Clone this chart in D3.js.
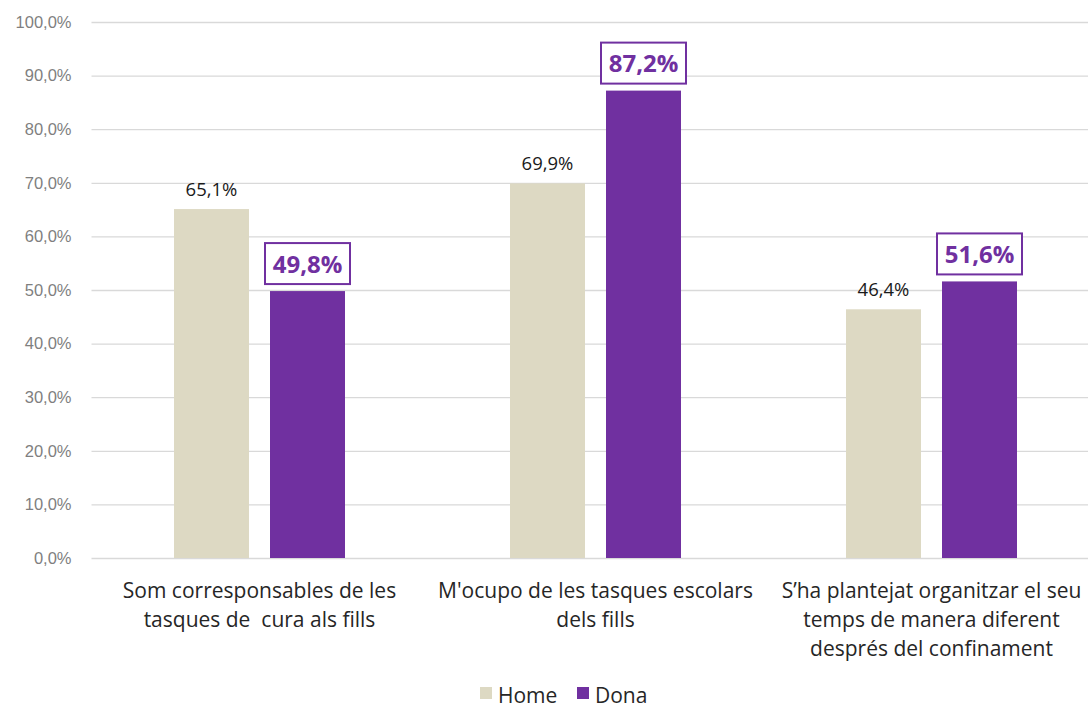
<!DOCTYPE html>
<html>
<head>
<meta charset="utf-8">
<script src="https://cdn.jsdelivr.net/npm/d3@7"></script>
<style>
    body { margin: 0; background: #fff; }
    svg { display: block; font-family: "Open Sans", Lato, sans-serif; }
</style>
</head>
<body>
<div id="container"></div>
<script>
// 数据
const categories = [
    ['Som corresponsables de les', 'tasques de \u00a0cura als fills'],
    ['M\'ocupo de les tasques escolars', 'dels fills'],
    ['S\u2019ha plantejat organitzar el seu', 'temps de manera diferent', 'després del confinament']
];
const seriesNames = ['Home', 'Dona'];
const homeValues = [65.1, 69.9, 46.4];
const donaValues = [49.8, 87.2, 51.6];
const yTicks = [0, 10, 20, 30, 40, 50, 60, 70, 80, 90, 100];

const colors = {Home: '#ddd9c3', Dona: '#7030a0'};
const width = 1088;
const height = 711;
const margin = {left: 91.5, right: -11.5, top: 22, bottom: 153};
const innerWidth = width - margin.left - margin.right;
const innerHeight = height - margin.top - margin.bottom;

const fmt = v => v.toFixed(1).replace('.', ',') + '%';

const svg = d3.select('#container')
    .append('svg')
    .attr('width', width)
    .attr('height', height);
const g = svg.append('g')
    .attr('transform', `translate(${margin.left},${margin.top})`);

// 比例尺
const xScale = d3.scaleBand().domain(d3.range(categories.length)).range([0, innerWidth]);
const subScale = d3.scaleBand().domain(seriesNames)
    .range([82.5, 253.5]).paddingInner(0.21875);
const yScale = d3.scaleLinear().domain([0, 100]).range([innerHeight, 0]);

// 网格线（到右边缘）
const gridG = g.append('g')
    .call(d3.axisLeft(yScale)
        .tickValues(yTicks)
        .tickSize(-(width - margin.left))
        .tickFormat(''));
gridG.select('.domain').remove();
gridG.selectAll('.tick text').remove();
gridG.selectAll('.tick line').attr('stroke', '#d9d9d9').attr('stroke-width', 1.3);

// y轴标签
const yAxisG = g.append('g')
    .call(d3.axisLeft(yScale)
        .tickValues(yTicks)
        .tickSize(0)
        .tickPadding(20)
        .tickFormat(d => fmt(d)));
yAxisG.select('.domain').remove();
yAxisG.selectAll('.tick line').remove();
yAxisG.selectAll('.tick text')
    .attr('fill', '#7f7f7f')
    .attr('font-size', 16.5);

// 数据整理
const rows = [];
categories.forEach((c, i) => {
    rows.push({cat: i, name: 'Home', value: homeValues[i]});
    rows.push({cat: i, name: 'Dona', value: donaValues[i]});
});

// 柱子
g.selectAll('.bar')
    .data(rows)
    .enter()
    .append('rect')
    .attr('class', 'bar')
    .attr('x', d => xScale(d.cat) + subScale(d.name))
    .attr('y', d => yScale(d.value))
    .attr('width', subScale.bandwidth())
    .attr('height', d => innerHeight - yScale(d.value))
    .attr('fill', d => colors[d.name]);

// Home 标签
g.selectAll('.homeLabel')
    .data(rows.filter(d => d.name === 'Home'))
    .enter()
    .append('text')
    .attr('x', d => xScale(d.cat) + subScale(d.name) + subScale.bandwidth() / 2)
    .attr('y', d => yScale(d.value) - 13)
    .attr('text-anchor', 'middle')
    .attr('font-size', 18.5)
    .attr('fill', '#1a1a1a')
    .text(d => fmt(d.value));

// Dona 标签（带框）
const donaLab = g.selectAll('.donaLabel')
    .data(rows.filter(d => d.name === 'Dona'))
    .enter()
    .append('g')
    .attr('transform', d => `translate(${xScale(d.cat) + subScale(d.name) + subScale.bandwidth() / 2},${yScale(d.value) - 6})`);
donaLab.append('rect')
    .attr('x', -42.5)
    .attr('y', -42)
    .attr('width', 85)
    .attr('height', 41)
    .attr('fill', '#fff')
    .attr('stroke', '#7030a0')
    .attr('stroke-width', 2);
donaLab.append('text')
    .attr('y', -12.5)
    .attr('text-anchor', 'middle')
    .attr('font-size', 24)
    .attr('font-weight', 'bold')
    .attr('fill', '#7030a0')
    .text(d => fmt(d.value));

// 类别标签
const catG = g.selectAll('.catLabel')
    .data(categories)
    .enter()
    .append('text')
    .attr('text-anchor', 'middle')
    .attr('font-size', 21)
    .attr('fill', '#262626')
    .attr('transform', (d, i) => `translate(${xScale(i) + xScale.bandwidth() / 2},${innerHeight + 40})`);
catG.selectAll('tspan')
    .data(d => d)
    .enter()
    .append('tspan')
    .attr('x', 0)
    .attr('y', (d, i) => i * 29)
    .text(d => d);

// 图例
const legend = svg.append('g').attr('transform', 'translate(480,703)');
const legendX = [0, 97];
seriesNames.forEach((n, i) => {
    legend.append('rect')
        .attr('x', legendX[i])
        .attr('y', -16)
        .attr('width', 12)
        .attr('height', 12)
        .attr('fill', colors[n]);
    legend.append('text')
        .attr('x', legendX[i] + 18)
        .attr('y', 0)
        .attr('font-size', 21)
        .attr('fill', '#262626')
        .text(n);
});
</script>
</body>
</html>
